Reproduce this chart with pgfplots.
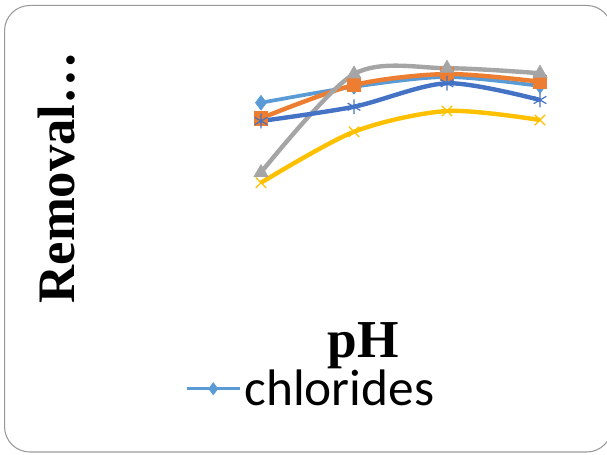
\documentclass[border=0pt]{standalone}
\usepackage{fontspec}
\setmainfont{Liberation Serif}
\newfontfamily\calib{Carlito}
\usepackage{pgfplots}
\pgfplotsset{compat=1.18}
\definecolor{s1}{HTML}{5B9BD5}
\definecolor{s2}{HTML}{ED7D31}
\definecolor{s3}{HTML}{A5A5A5}
\definecolor{s4}{HTML}{FFC000}
\definecolor{s5}{HTML}{4472C4}
\begin{document}
\begin{tikzpicture}
\useasboundingbox (0pt,0pt) rectangle (455.25pt,340.5pt);
\draw[color=gray!80, line width=0.8pt, rounded corners=19pt] (3.4pt,1.5pt) rectangle (459pt,336.4pt);
\begin{axis}[
  at={(160.875pt,115.5pt)}, anchor=south west,
  scale only axis, width=279pt, height=187.5pt,
  xmin=0.5, xmax=4.5, ymin=0, ymax=100,
  axis line style={draw=none}, ticks=none,
  clip=false,
  xlabel={\fontsize{40}{42}\selectfont\bfseries pH},
  xlabel style={at={(rel axis cs:0.399,-0.23)}, anchor=base, inner sep=0pt},
  ylabel={\fontsize{39.5}{42}\selectfont\bfseries Removal\ldots},
  ylabel style={at={(rel axis cs:-0.377,0.49)}, anchor=base, inner sep=0pt},
  legend style={at={(rel axis cs:0.259,-0.355)}, anchor=center, draw=none, fill=none,
    font=\calib\fontsize{38.5}{40}\selectfont, inner sep=0pt},
  legend image code/.code={
    \draw[#1, line width=2.6pt] (0pt,0pt) -- (40pt,0pt);
    \draw[#1, mark size=4.5pt] plot coordinates {(20pt,0pt)};
  },
  every axis plot/.append style={smooth, tension=0.5, line width=3.3pt},
]
\addplot[s1, line width=2.8pt, mark=diamond*, mark size=5.5pt, mark options={solid, fill=s1, line width=0.5pt}]
  coordinates {(1,78.9) (2,85.3) (3,89.2) (4,85.6)};
\addlegendentry{chlorides}
\addplot[s2, mark=square*, mark size=5pt, mark options={solid, fill=s2, line width=0.5pt}, forget plot]
  coordinates {(1,72.7) (2,86) (3,90.4) (4,87.3)};
\addplot[s3, mark=triangle*, mark size=6pt, mark options={solid, fill=s3, line width=0.5pt}, forget plot]
  coordinates {(1,51) (2,90.4) (3,92.7) (4,90.7)};
\addplot[s4, mark=x, mark size=5.5pt, mark options={solid, line width=0.9pt}, forget plot]
  coordinates {(1,46.9) (2,67.3) (3,75.6) (4,72)};
\addplot[s5, mark=asterisk, mark size=5.5pt, mark options={solid, line width=0.9pt}, forget plot]
  coordinates {(1,71.6) (2,77.3) (3,86.7) (4,80)};
\end{axis}
\end{tikzpicture}
\end{document}
